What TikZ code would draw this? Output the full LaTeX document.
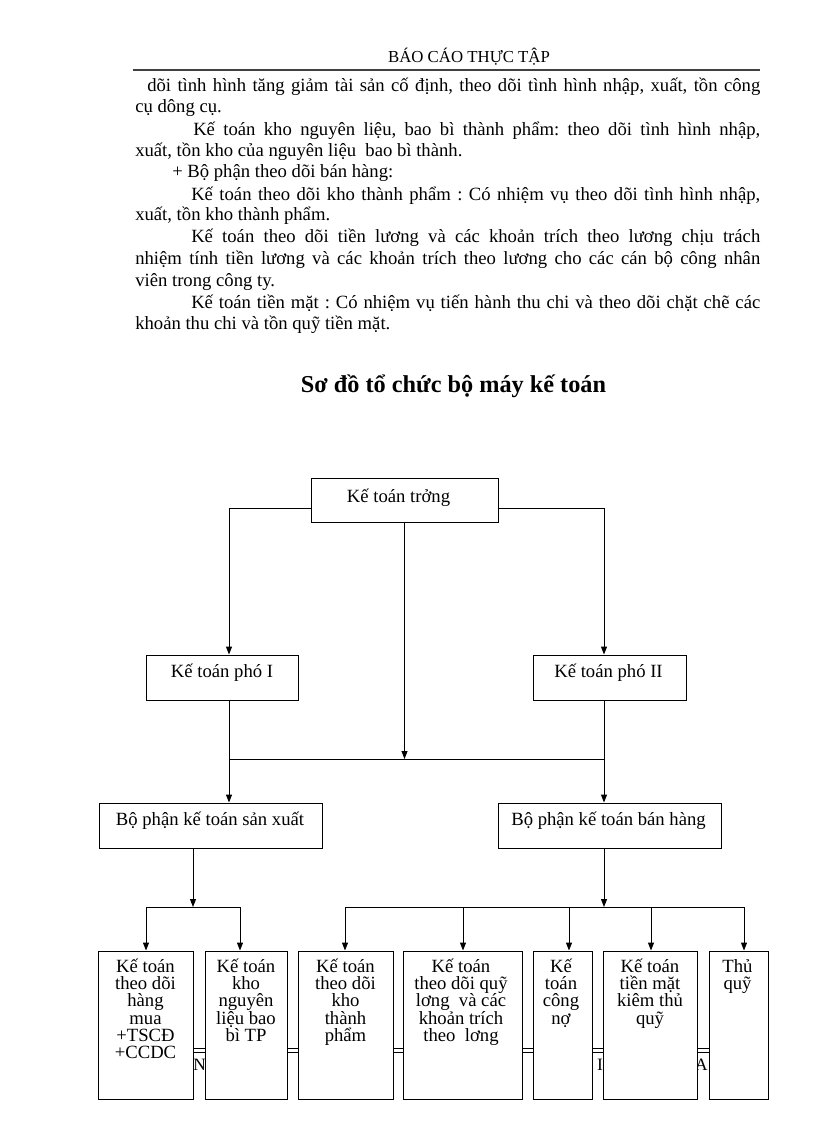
\documentclass[tikz,border=0pt]{standalone}
\usepackage{fontspec}
\setmainfont{Liberation Serif}
\usetikzlibrary{arrows.meta,fit}
\frenchspacing
\begin{document}
\begin{tikzpicture}[x=0.75pt,y=-0.75pt,
  bodyf/.style={font=\fontsize{14}{16}\selectfont},
  txt/.style={inner sep=0pt, anchor=base west, bodyf},
  boxst/.style={draw, line width=0.7pt, inner sep=0pt, fill=white},
  lbl/.style={inner sep=0pt, anchor=base, font=\fontsize{14}{16}\selectfont},
  sub/.style={inner sep=0pt, anchor=base, font=\fontsize{14}{13}\selectfont},
  foot/.style={inner sep=0pt, font=\fontsize{13}{15}\selectfont},
  conn/.style={line width=0.7pt},
  arr/.style={conn, -{Triangle[length=6pt,width=4.5pt]}},
]
\useasboundingbox (0,0) rectangle (816,1123);

% header
\node[inner sep=0pt, anchor=base, font=\fontsize{12.6}{14}\selectfont] (hdr) at (469,63) {BÁO CÁO THỰC TẬP};
\draw[line width=1.5pt, black!75] (133,70) -- (760,70);

% body text
\node[txt] (t1) at (147,92) {\makebox[459.75pt][s]{dõi tình hình tăng giảm tài sản cố định, theo dõi tình hình nhập, xuất, tồn công}};
\node[txt] (t2) at (135,113) {cụ dông cụ.};
\node[txt] (t3) at (193,136) {\makebox[425.25pt][s]{Kế toán kho nguyên liệu, bao bì thành phẩm: theo dõi tình hình nhập,}};
\node[txt] (t4) at (135,157) {xuất, tồn kho của nguyên liệu\ \ bao bì thành.};
\node[txt] (t5) at (172,178) {+ Bộ phận theo dõi bán hàng:};
\node[txt] (t6) at (191,201) {\makebox[426.75pt][s]{Kế toán theo dõi kho thành phẩm : Có nhiệm vụ theo dõi tình hình nhập,}};
\node[txt] (t7) at (135,221) {xuất, tồn kho thành phẩm.};
\node[txt] (t8) at (191,243) {\makebox[426.75pt][s]{Kế toán theo dõi tiền lương và các khoản trích theo lương chịu trách}};
\node[txt] (t9) at (135,264) {\makebox[468.75pt][s]{nhiệm tính tiền lương và các khoản trích theo lương cho các cán bộ công nhân}};
\node[txt] (t10) at (135,286) {viên trong công ty.};
\node[txt] (t11) at (191,308) {\makebox[426.75pt][s]{Kế toán tiền mặt : Có nhiệm vụ tiến hành thu chi và theo dõi chặt chẽ các}};
\node[txt] (t12) at (135,329) {khoản thu chi và tồn quỹ tiền mặt.};

% title
\node[inner sep=0pt, anchor=base, font=\fontsize{18.2}{20}\selectfont\bfseries] (title) at (453.5,392) {Sơ đồ tổ chức bộ máy kế toán};

% footer (partly hidden behind the bottom boxes)
\draw[line width=0.5pt] (135,1048) -- (760,1048);
\draw[line width=0.5pt] (135,1052) -- (760,1052);
\node[foot, anchor=base west] (fn) at (193,1070) {Ng};
\node[foot, anchor=base] (fi) at (600,1070) {I};
\node[foot, anchor=base east] (fa) at (708,1070) {A};

% boxes
\node[boxst, fit={(311,478)(498,522)}] (A) {};
\node[boxst, fit={(146,655)(298,700)}] (B) {};
\node[boxst, fit={(533,655)(686,700)}] (C) {};
\node[boxst, fit={(99,803)(322,848)}] (D) {};
\node[boxst, fit={(498,803)(721,848)}] (E) {};
\node[boxst, fit={(98,951)(193,1099)}] (b1) {};
\node[boxst, fit={(205,951)(287,1099)}] (b2) {};
\node[boxst, fit={(298,951)(393,1099)}] (b3) {};
\node[boxst, fit={(403,951)(522,1099)}] (b4) {};
\node[boxst, fit={(533,951)(592,1099)}] (b5) {};
\node[boxst, fit={(603,951)(697,1099)}] (b6) {};
\node[boxst, fit={(709,951)(768,1099)}] (b7) {};

% labels
\node[lbl] (At) at (398.5,502) {Kế toán trởng};
\node[lbl] (Bt) at (222,677) {Kế toán phó I};
\node[lbl] (Ct) at (608.5,677) {Kế toán phó II};
\node[lbl] (Dt) at (210,825) {Bộ phận kế toán sản xuất};
\node[lbl] (Et) at (608.5,825) {Bộ phận kế toán bán hàng};

\node[sub] (s1) at (145.5,972) {\parbox[t]{110pt}{\centering\lineskiplimit=-20pt Kế toán\\theo dõi\\hàng\\mua\\+TSCĐ\\+CCDC}};
\node[sub] (s2) at (246,972) {\parbox[t]{110pt}{\centering\lineskiplimit=-20pt Kế toán\\kho\\nguyên\\liệu bao\\bì TP}};
\node[sub] (s3) at (345.5,972) {\parbox[t]{110pt}{\centering\lineskiplimit=-20pt Kế toán\\theo dõi\\kho\\thành\\phẩm}};
\node[sub] (s4) at (461,972) {\parbox[t]{110pt}{\centering\lineskiplimit=-20pt Kế toán\\theo dõi quỹ\\lơng\ \ và các\\khoản trích\\theo\ \ lơng}};
\node[sub] (s5) at (561,972) {\parbox[t]{110pt}{\centering\lineskiplimit=-20pt Kế\\toán\\công\\nợ}};
\node[sub] (s6) at (650,972) {\parbox[t]{110pt}{\centering\lineskiplimit=-20pt Kế toán\\tiền mặt\\kiêm thủ\\quỹ}};
\node[sub] (s7) at (737.5,972) {\parbox[t]{110pt}{\centering\lineskiplimit=-20pt Thủ\\quỹ}};

% junction coordinates
\coordinate (bl) at (229,759);
\coordinate (br) at (604,759);
\coordinate (dj) at (193,907);
\coordinate (d1) at (146,907);
\coordinate (d2) at (240,907);
\coordinate (ej) at (604,907);
\coordinate (e1) at (345,907);
\coordinate (e2) at (463,907);
\coordinate (e3) at (569,907);
\coordinate (e4) at (651,907);
\coordinate (e5) at (744,907);

% connectors
\draw[arr] (A.south west) ++(0,-14) -| (B.north -| bl);
\draw[arr] (A.south east) ++(0,-14) -| (C.north -| br);
\draw[arr] (A.south) -- (A.south |- bl);
\draw[conn] (B.south -| bl) -- (bl) -- (br) -- (C.south -| br);
\draw[arr] (bl) -- (D.north -| bl);
\draw[arr] (br) -- (E.north -| br);

\draw[arr] (D.south -| dj) -- (dj);
\draw[conn] (d1) -- (d2);
\draw[arr] (d1) -- (b1.north -| d1);
\draw[arr] (d2) -- (b2.north -| d2);

\draw[arr] (E.south -| ej) -- (ej);
\draw[conn] (e1) -- (e5);
\draw[arr] (e1) -- (b3.north -| e1);
\draw[arr] (e2) -- (b4.north -| e2);
\draw[arr] (e3) -- (b5.north -| e3);
\draw[arr] (e4) -- (b6.north -| e4);
\draw[arr] (e5) -- (b7.north -| e5);
\end{tikzpicture}
\end{document}
